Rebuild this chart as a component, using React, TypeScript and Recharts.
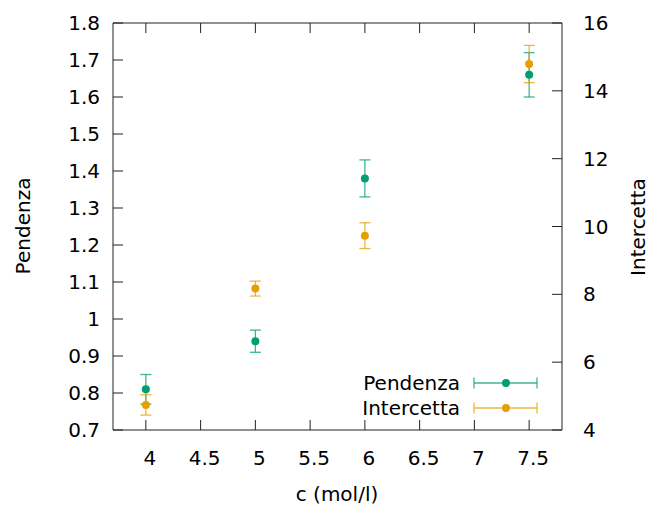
import React from 'react';
import { ComposedChart, Scatter, XAxis, YAxis, ErrorBar, Legend, Label } from 'recharts';

const cValues = [4, 5, 6, 7.5];
const pendenza = [0.81, 0.94, 1.38, 1.66];
const pendenzaErr = [0.04, 0.03, 0.05, 0.06];
const intercetta = [4.74, 8.17, 9.73, 14.79];
const intercettaErr = [0.3, 0.22, 0.38, 0.55];

const xTicks = [4, 4.5, 5, 5.5, 6, 6.5, 7, 7.5];
const leftTicks = [0.7, 0.8, 0.9, 1, 1.1, 1.2, 1.3, 1.4, 1.5, 1.6, 1.7, 1.8];
const rightTicks = [4, 6, 8, 10, 12, 14, 16];

const GREEN = '#009e73';
const ORANGE = '#e69f00';
const FONT = 'DejaVu Sans, sans-serif';
const AXIS = '#222';

const pendData = cValues.map((c, i) => ({ c, v: pendenza[i], e: pendenzaErr[i] }));
const intData = cValues.map((c, i) => ({ c, v: intercetta[i], e: intercettaErr[i] }));

const dot = (color: string) => (p: any) => <circle cx={p.cx} cy={p.cy} r={4} fill={color} />;

const tickStyle = { fontSize: 20, fontFamily: FONT, fill: '#000' };

const LegendContent = () => {
  const rows = [
    { name: 'Pendenza', color: GREEN, y: 13 },
    { name: 'Intercetta', color: ORANGE, y: 38 },
  ];
  return (
    <svg width={220} height={54} style={{ display: 'block' }}>
      {rows.map((r) => (
        <g key={r.name}>
          <text x={120} y={r.y} textAnchor="end" dominantBaseline="central" fontSize={20} fontFamily={FONT} fill="#000">{r.name}</text>
          <line x1={134} x2={197} y1={r.y} y2={r.y} stroke={r.color} strokeOpacity={0.75} strokeWidth={1.3} />
          <line x1={134} x2={134} y1={r.y - 5.5} y2={r.y + 5.5} stroke={r.color} strokeOpacity={0.75} strokeWidth={1.3} />
          <line x1={197} x2={197} y1={r.y - 5.5} y2={r.y + 5.5} stroke={r.color} strokeOpacity={0.75} strokeWidth={1.3} />
          <circle cx={166} cy={r.y} r={4} fill={r.color} />
        </g>
      ))}
    </svg>
  );
};

export default function App() {
  return (
    <div style={{ position: 'absolute', left: 0, top: 0, width: 649, height: 506, background: '#fff' }}>
      <ComposedChart width={649} height={506} margin={{ top: 0, right: 0, bottom: 0, left: 0 }}>
        <XAxis
          xAxisId="b"
          dataKey="c"
          type="number"
          domain={[3.7, 7.8]}
          ticks={xTicks}
          allowDataOverflow
          height={76}
          orientation="bottom"
          stroke={AXIS}
          tickSize={-10}
          tickMargin={31}
          tick={{ ...tickStyle, dx: 4 }}
          interval={0}
        >
          <Label
            content={() => (
              <text x={337} y={494} textAnchor="middle" dominantBaseline="central" fontSize={20} fontFamily={FONT} fill="#000">c (mol/l)</text>
            )}
          />
        </XAxis>
        <XAxis
          xAxisId="t"
          dataKey="c"
          type="number"
          domain={[3.7, 7.8]}
          ticks={xTicks}
          allowDataOverflow
          height={23}
          orientation="top"
          stroke={AXIS}
          tickSize={-10}
          tickFormatter={() => ''}
          interval={0}
        />
        <YAxis
          yAxisId="L"
          type="number"
          domain={[0.7, 1.8]}
          ticks={leftTicks}
          allowDataOverflow
          width={113}
          orientation="left"
          stroke={AXIS}
          tickSize={-10}
          tickMargin={23}
          tick={tickStyle}
          interval={0}
        >
          <Label
            content={() => (
              <text x={23} y={226} transform="rotate(-90 23 226)" textAnchor="middle" dominantBaseline="central" fontSize={20} fontFamily={FONT} fill="#000">Pendenza</text>
            )}
          />
        </YAxis>
        <YAxis
          yAxisId="R"
          type="number"
          domain={[4, 16]}
          ticks={rightTicks}
          allowDataOverflow
          width={87}
          orientation="right"
          stroke={AXIS}
          tickSize={-10}
          tickMargin={31}
          tick={tickStyle}
          interval={0}
        >
          <Label
            content={() => (
              <text x={638} y={227} transform="rotate(-90 638 227)" textAnchor="middle" dominantBaseline="central" fontSize={20} fontFamily={FONT} fill="#000">Intercetta</text>
            )}
          />
        </YAxis>
        <Legend
          layout="horizontal"
          verticalAlign="middle"
          align="center"
          content={() => <LegendContent />}
          wrapperStyle={{ left: 340, top: 370, width: 220, height: 54 }}
        />
        <Scatter name="Pendenza" data={pendData} dataKey="v" xAxisId="b" yAxisId="L" fill={GREEN} shape={dot(GREEN)} isAnimationActive={false}>
          <ErrorBar dataKey="e" direction="y" width={5.5} stroke={GREEN} strokeOpacity={0.75} strokeWidth={1.3} isAnimationActive={false} />
        </Scatter>
        <Scatter name="Intercetta" data={intData} dataKey="v" xAxisId="b" yAxisId="R" fill={ORANGE} shape={dot(ORANGE)} isAnimationActive={false}>
          <ErrorBar dataKey="e" direction="y" width={5.5} stroke={ORANGE} strokeOpacity={0.75} strokeWidth={1.3} isAnimationActive={false} />
        </Scatter>
      </ComposedChart>
    </div>
  );
}
